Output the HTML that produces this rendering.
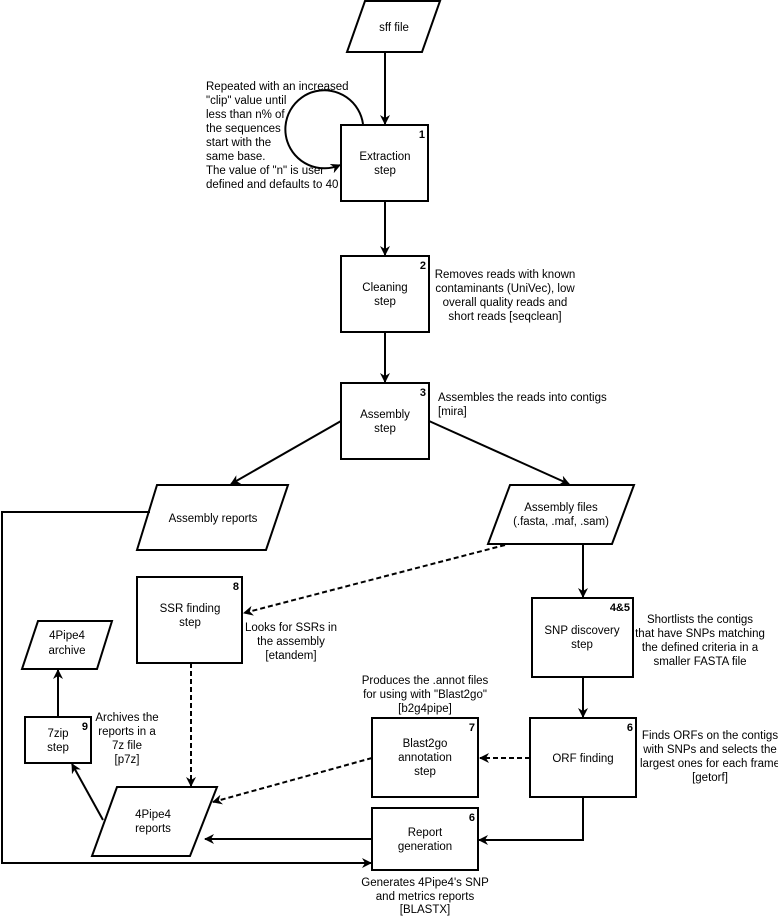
<!DOCTYPE html>
<html><head><meta charset="utf-8"><style>
html,body{margin:0;padding:0;background:#fff}
svg text{font-family:"Liberation Sans",Arial,sans-serif;font-size:11.5px;fill:#000}
.n{font-weight:bold;font-size:11px}
</style></head><body>
<svg width="778" height="916" viewBox="0 0 778 916" xmlns="http://www.w3.org/2000/svg">
<defs>
<marker id="a" markerWidth="10" markerHeight="10" refX="9" refY="5" orient="auto" markerUnits="userSpaceOnUse" viewBox="0 0 10 10">
<path d="M0,0 L10,5 L0,10 L3,5 Z" fill="#000"/></marker>
</defs>
<g fill="none" stroke="#000" stroke-width="2">
<polygon points="365,1 440,1 422,52 347,52" fill="#fff"/>
<rect x="341" y="125" width="87" height="76" fill="#fff"/>
<rect x="341" y="256" width="88" height="76" fill="#fff"/>
<rect x="341" y="383" width="88" height="76" fill="#fff"/>
<polygon points="157,485 288,485 266,550 137,550" fill="#fff"/>
<polygon points="510,485 634,485 612,544 488,544" fill="#fff"/>
<rect x="137" y="577" width="105" height="86" fill="#fff"/>
<rect x="532" y="598" width="101" height="79" fill="#fff"/>
<rect x="530" y="718" width="106" height="79" fill="#fff"/>
<rect x="372" y="718" width="106" height="79" fill="#fff"/>
<rect x="372" y="808" width="106" height="62" fill="#fff"/>
<polygon points="38,621 112,621 97,669 22,669" fill="#fff"/>
<rect x="25" y="717" width="66" height="46" fill="#fff"/>
<polygon points="117,787 217,787 190,856 92,856" fill="#fff"/>
<line x1="385" y1="52" x2="385" y2="124" marker-end="url(#a)"/>
<path d="M363,124 A39,39 0 1 0 340,165" marker-end="url(#a)"/>
<line x1="385" y1="201" x2="385" y2="255" marker-end="url(#a)"/>
<line x1="385" y1="332" x2="385" y2="382" marker-end="url(#a)"/>
<line x1="341" y1="421" x2="231" y2="484" marker-end="url(#a)"/>
<line x1="429" y1="421" x2="569" y2="484" marker-end="url(#a)"/>
<line x1="583" y1="544" x2="583" y2="597" marker-end="url(#a)"/>
<line x1="583" y1="677" x2="583" y2="717" marker-end="url(#a)"/>
<polyline points="583,797 583,840 479,840" marker-end="url(#a)"/>
<line x1="372" y1="839" x2="205" y2="839" marker-end="url(#a)"/>
<polyline points="150,512 2,512 2,863 371,863" marker-end="url(#a)"/>
<line x1="103" y1="820" x2="72" y2="764" marker-end="url(#a)"/>
<line x1="58" y1="717" x2="58" y2="670" marker-end="url(#a)"/>
<g stroke-dasharray="5,3">
<line x1="505" y1="545" x2="244" y2="613" marker-end="url(#a)"/>
<line x1="191" y1="663" x2="191" y2="786" marker-end="url(#a)"/>
<line x1="530" y1="758" x2="480" y2="758" marker-end="url(#a)"/>
<line x1="372" y1="758" x2="213" y2="802" marker-end="url(#a)"/>
</g>
</g>
<g text-anchor="middle">
<text x="394" y="31">sff file</text>
<text x="385" y="160">Extraction</text><text x="385" y="174">step</text>
<text x="385" y="291">Cleaning</text><text x="385" y="305">step</text>
<text x="385" y="418">Assembly</text><text x="385" y="432">step</text>
<text x="213" y="522">Assembly reports</text>
<text x="561" y="511">Assembly files</text><text x="561" y="525">(.fasta, .maf, .sam)</text>
<text x="190" y="612">SSR finding</text><text x="190" y="626">step</text>
<text x="582" y="634">SNP discovery</text><text x="582" y="648">step</text>
<text x="583" y="762">ORF finding</text>
<text x="425" y="747">Blast2go</text><text x="425" y="761">annotation</text><text x="425" y="775">step</text>
<text x="425" y="836">Report</text><text x="425" y="850">generation</text>
<text x="67" y="639">4Pipe4</text><text x="67" y="654">archive</text>
<text x="58" y="737">7zip</text><text x="58" y="751">step</text>
<text x="153" y="818">4Pipe4</text><text x="153" y="832">reports</text>
<text x="505" y="278">Removes reads with known</text>
<text x="505" y="292">contaminants (UniVec), low</text>
<text x="505" y="306">overall quality reads and</text>
<text x="505" y="320">short reads [seqclean]</text>
<text x="291" y="631">Looks for SSRs in</text>
<text x="291" y="645">the assembly</text>
<text x="291" y="659">[etandem]</text>
<text x="700" y="623">Shortlists the contigs</text>
<text x="700" y="637">that have SNPs matching</text>
<text x="700" y="651">the defined criteria in a</text>
<text x="700" y="665">smaller FASTA file</text>
<text x="710" y="739">Finds ORFs on the contigs</text>
<text x="710" y="753">with SNPs and selects the</text>
<text x="710" y="767">largest ones for each frame</text>
<text x="710" y="781">[getorf]</text>
<text x="425" y="684">Produces the .annot files</text>
<text x="425" y="698">for using with "Blast2go"</text>
<text x="425" y="712">[b2g4pipe]</text>
<text x="425" y="886">Generates 4Pipe4's SNP</text>
<text x="425" y="900">and metrics reports</text>
<text x="425" y="913">[BLASTX]</text>
<text x="127" y="721">Archives the</text>
<text x="127" y="735">reports in a</text>
<text x="127" y="749">7z file</text>
<text x="127" y="763">[p7z]</text>
</g>
<g>
<text x="206" y="90">Repeated with an increased</text>
<text x="206" y="104">"clip" value until</text>
<text x="206" y="118">less than n% of</text>
<text x="206" y="132">the sequences</text>
<text x="206" y="146">start with the</text>
<text x="206" y="160">same base.</text>
<text x="206" y="174">The value of "n" is user</text>
<text x="206" y="188">defined and defaults to 40</text>
<text x="438" y="401">Assembles the reads into contigs</text>
<text x="438" y="415">[mira]</text>
</g>
<g text-anchor="end">
<text class="n" x="425" y="138">1</text>
<text class="n" x="426" y="269">2</text>
<text class="n" x="426" y="396">3</text>
<text class="n" x="239" y="590">8</text>
<text class="n" x="630" y="611">4&amp;5</text>
<text class="n" x="633" y="731">6</text>
<text class="n" x="475" y="731">7</text>
<text class="n" x="475" y="821">6</text>
<text class="n" x="88" y="730">9</text>
</g>
</svg>
</body></html>
